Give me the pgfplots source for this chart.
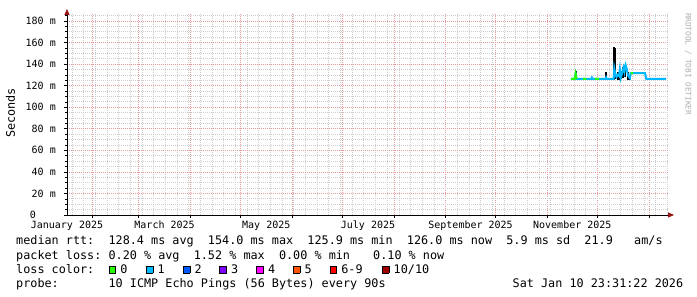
\documentclass[border=0pt]{standalone}
\usepackage{pgfplots}
\pgfplotsset{compat=1.18}
\usepackage{fontspec}
\setmainfont{DejaVu Sans Mono}
\usetikzlibrary{arrows.meta}
\definecolor{lgreen}{HTML}{26FF00}
\definecolor{lcyan}{HTML}{00B8FF}
\definecolor{lblue}{HTML}{0059FF}
\definecolor{lpurple}{HTML}{7E00FF}
\definecolor{lmagenta}{HTML}{FF00FF}
\definecolor{lorange}{HTML}{FF5500}
\definecolor{lred}{HTML}{FF0000}
\definecolor{ldred}{HTML}{A10000}
\definecolor{mgrid}{RGB}{230,155,155}
\definecolor{ngrid}{RGB}{205,205,205}
\definecolor{arrowred}{RGB}{150,20,20}
\definecolor{wmark}{RGB}{175,175,175}
\newcommand{\lf}{\fontsize{11.8bp}{14bp}\selectfont}
\newcommand{\tf}{\fontsize{10bp}{12bp}\selectfont}
\newcommand{\wf}{\fontsize{7.7bp}{9bp}\selectfont}
\newcommand{\lbox}[1]{\raisebox{0.6bp}{\setlength{\fboxsep}{0pt}\setlength{\fboxrule}{0.8bp}\fcolorbox{black}{#1}{\rule{0pt}{5.9bp}\rule{5.9bp}{0pt}}}\hspace{4.3bp}}
\frenchspacing
\begin{document}
\begin{tikzpicture}
\fill[white] (0,0) rectangle (697bp,297bp);
\useasboundingbox (0,0) rectangle (697bp,297bp);
\begin{axis}[
  at={(67bp,82bp)}, anchor=south west,
  scale only axis, width=601bp, height=202bp,
  xmin=16, xmax=376.4, ymin=0, ymax=187.4,
  axis lines=left,
  axis line style={black, line width=0.8bp},
  x axis line style={-{Triangle[length=6bp,width=5bp,color=arrowred,fill=arrowred]}, shorten >=-6bp},
  y axis line style={-{Triangle[length=6bp,width=5bp,color=arrowred,fill=arrowred]}, shorten >=-4bp},
  xtick={31,59,90,120,151,181,212,243,273,304,334,365},
  xticklabels={},
  minor xtick={19,26,...,376},
  ytick={0,20,...,180},
  minor ytick={5,10,...,185},
  yticklabels={0\kern20bp,20 m,40 m,60 m,80 m,100 m,120 m,140 m,160 m,180 m},
  extra x ticks={16,74.5,135.5,196.5,258,319},
  extra x tick labels={January 2025,March 2025,May 2025,July 2025,September 2025,November 2025},
  extra x tick style={xmajorgrids=false, major tick length=0pt},
  xmajorgrids, ymajorgrids, xminorgrids, yminorgrids,
  major grid style={mgrid, line width=0.7bp, dash pattern=on 1bp off 1bp},
  minor grid style={ngrid, line width=0.7bp, dash pattern=on 1bp off 1bp},
  tick align=outside, major tick length=3bp, minor tick length=1.5bp,
  tick style={black, line width=0.6bp},
  xticklabel style={font=\tf, inner sep=0pt, anchor=north, yshift=-6bp},
  yticklabel style={font=\tf, inner sep=0pt, anchor=east, xshift=-8bp},
  unbounded coords=jump,
  clip=false,
]
% smoke (min..max spread)
\addplot[draw=none, mark=none, forget plot,
  error bars/.cd, y dir=both, y explicit,
  error bar style={black, line width=1.8bp}, error mark=none]
  coordinates {
  (321.0,126.0) += (0,7.5) -= (0,0)
  (339.0,126.0) += (0,6.5) -= (0,0)
  (344.0,125.5) += (0,30.0) -= (0,0)
  (344.5,126.0) += (0,28.5) -= (0,0)
  (346.2,125.5) += (0,7.5) -= (0,0)
  (347.3,125.5) += (0,13.0) -= (0,0)
  (348.3,126.5) += (0,7.5) -= (0,0)
  (349.6,127.0) += (0,10.5) -= (0,0)
  (350.8,128.0) += (0,11.5) -= (0,0)
  (352.4,125.0) += (0,8.0) -= (0,0)
  (353.0,125.0) += (0,5.0) -= (0,0)
  };
% median rtt, loss 1 colour
\addplot[lcyan, line width=2bp, mark=none] coordinates {
  (318.2,126.2) (320.4,126.2) (321.0,131.0) (321.6,126.2) (330.4,126.2)
  (330.8,127.5) (331.4,126.2) (339.0,126.2) (339.3,127.5) (339.6,126.2)
  (343.8,126.2) (344.2,136.0) (344.8,131.0) (345.5,128.0) (346.3,130.0)
  (347.0,129.0) (347.5,135.0) (348.0,127.0) (348.6,130.0) (349.2,134.0)
  (349.8,137.0) (350.3,133.0) (351.0,139.0) (351.6,136.0) (352.3,130.0)
  (353.0,128.0) (353.6,127.0) (354.0,131.7) (362.6,131.7) (363.4,126.2)
  (375.2,126.2)
};
% median rtt, loss 0 colour
\addplot[lgreen, line width=2bp, mark=none] coordinates {
  (318.2,126.2) (320.4,126.2) (321.0,131.0) (321.6,126.2) (nan,nan)
  (325.5,126.2) (327.5,126.2) (nan,nan)
  (332.5,126.2) (335.0,126.2) (nan,nan)
  (354.0,131.7) (355.5,131.7)
};
\end{axis}
% y label and watermark
\node[rotate=90, font=\lf, inner sep=0pt] at (10.5bp,184bp) {Seconds};
\node[rotate=-90, font=\wf, text=wmark, inner sep=0pt] at (688bp,233bp) {RRDTOOL / TOBI OETIKER};
% legend rows
\node[anchor=base west, inner sep=0pt, font=\lf] at (16bp,52.7bp)
  {median~rtt:~~128.4~ms~avg~~154.0~ms~max~~125.9~ms~min~~126.0~ms~now~~5.9~ms~sd~~21.9~~~am/s};
\node[anchor=base west, inner sep=0pt, font=\lf] at (16bp,38bp)
  {packet~loss:~0.20~\%~avg~~1.52~\%~max~~0.00~\%~min};
\node[anchor=base west, inner sep=0pt, font=\lf] at (373bp,38bp) {0.10~\%~now};
\node[anchor=base west, inner sep=0pt, font=\lf] at (16bp,23.7bp) {loss~color:};
\node[anchor=base west, inner sep=0pt, font=\lf] at (108.3bp,23.7bp) {\lbox{lgreen}0};
\node[anchor=base west, inner sep=0pt, font=\lf] at (145.7bp,23.7bp) {\lbox{lcyan}1};
\node[anchor=base west, inner sep=0pt, font=\lf] at (182.7bp,23.7bp) {\lbox{lblue}2};
\node[anchor=base west, inner sep=0pt, font=\lf] at (219bp,23.7bp) {\lbox{lpurple}3};
\node[anchor=base west, inner sep=0pt, font=\lf] at (256bp,23.7bp) {\lbox{lmagenta}4};
\node[anchor=base west, inner sep=0pt, font=\lf] at (292.7bp,23.7bp) {\lbox{lorange}5};
\node[anchor=base west, inner sep=0pt, font=\lf] at (329.3bp,23.7bp) {\lbox{lred}6-9};
\node[anchor=base west, inner sep=0pt, font=\lf] at (381.7bp,23.7bp) {\lbox{ldred}10/10};
\node[anchor=base west, inner sep=0pt, font=\lf] at (16bp,9.3bp) {probe:};
\node[anchor=base west, inner sep=0pt, font=\lf] at (108.4bp,9.3bp) {10~ICMP~Echo~Pings~(56~Bytes)~every~90s};
\node[anchor=base west, inner sep=0pt, font=\lf] at (512.5bp,9.3bp) {Sat~Jan~10~23:31:22~2026};
\end{tikzpicture}
\end{document}
